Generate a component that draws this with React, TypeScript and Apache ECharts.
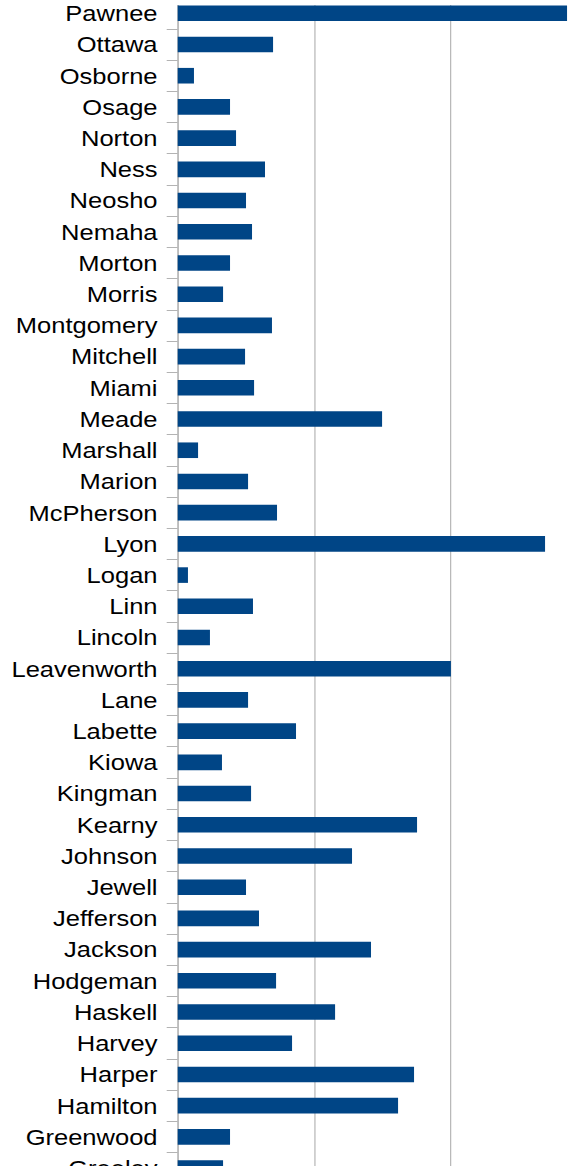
import React, { useEffect, useRef } from "react";
import * as echarts from "echarts";

const categories = [
  "Pawnee", "Ottawa", "Osborne", "Osage", "Norton", "Ness", "Neosho", "Nemaha",
  "Morton", "Morris", "Montgomery", "Mitchell", "Miami", "Meade", "Marshall",
  "Marion", "McPherson", "Lyon", "Logan", "Linn", "Lincoln", "Leavenworth",
  "Lane", "Labette", "Kiowa", "Kingman", "Kearny", "Johnson", "Jewell",
  "Jefferson", "Jackson", "Hodgeman", "Haskell", "Harvey", "Harper", "Hamilton",
  "Greenwood", "Greeley",
];

const values = [
  28.5, 6.98, 1.19, 3.83, 4.27, 6.39, 5.0, 5.44,
  3.83, 3.32, 6.9, 4.93, 5.59, 14.96, 1.49,
  5.15, 7.27, 26.89, 0.75, 5.51, 2.36, 20.0,
  5.15, 8.66, 3.24, 5.37, 17.52, 12.76, 5.0,
  5.95, 14.15, 7.2, 11.52, 8.37, 17.3, 16.13,
  3.83, 3.32,
];

const xTicks = [0, 10, 20, 30];

export default function App() {
  const ref = useRef<HTMLDivElement>(null);

  useEffect(() => {
    if (!ref.current) return;
    const chart = echarts.init(ref.current, null, { renderer: "svg" });
    chart.setOption({
      animation: false,
      grid: { left: 153.2, top: 19.69, height: 1186, width: 353.3 },
      xAxis: {
        type: "value",
        min: xTicks[0],
        max: xTicks[xTicks.length - 1],
        interval: xTicks[1] - xTicks[0],
        axisLine: { show: false },
        axisTick: { show: false },
        axisLabel: { show: false },
        splitLine: { show: true, lineStyle: { color: "#b3b3b3", width: 1 } },
      },
      yAxis: {
        type: "category",
        inverse: true,
        data: categories,
        axisLine: { show: true, lineStyle: { color: "#b3b3b3", width: 1 } },
        axisTick: { show: true, length: 9.5, lineStyle: { color: "#b3b3b3" } },
        axisLabel: {
          interval: 0,
          margin: 17.4,
          fontFamily: "Liberation Sans",
          fontSize: 22,
          color: "#000",
        },
      },
      series: [
        {
          type: "bar",
          data: values,
          barWidth: "50%",
          itemStyle: { color: "#004586" },
        },
      ],
    });
    return () => chart.dispose();
  }, []);

  return (
    <div
      style={{
        position: "fixed",
        left: 0,
        top: 5,
        width: 578,
        height: 1161,
        overflow: "hidden",
        background: "#fff",
      }}
    >
      <div
        ref={ref}
        style={{
          position: "absolute",
          left: 0,
          top: -27,
          width: 540,
          height: 1260,
          transform: "scaleX(1.16)",
          transformOrigin: "0 0",
        }}
      />
    </div>
  );
}
